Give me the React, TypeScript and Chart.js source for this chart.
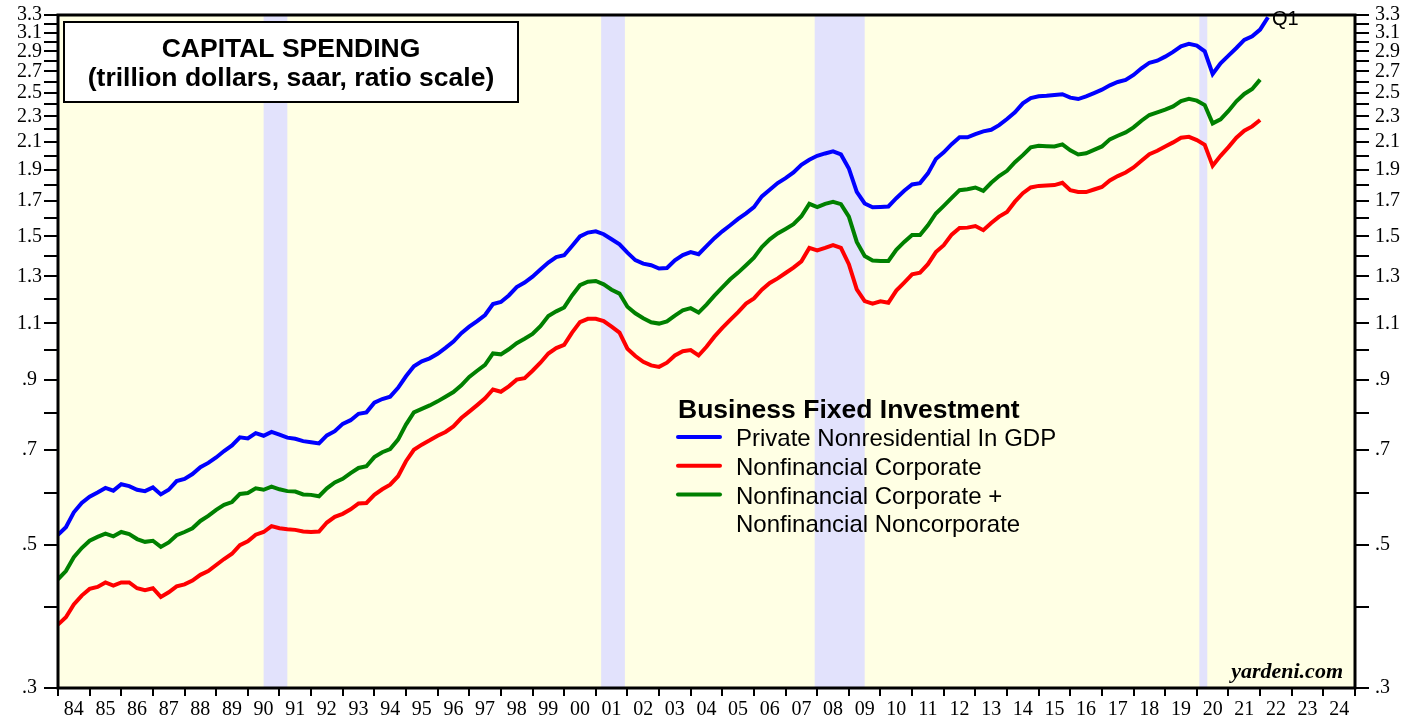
import React, { useEffect, useRef } from 'react';
import { Chart, registerables } from 'chart.js';

Chart.register(...registerables);

// ---- Data (quarterly, starting 1984, trillion dollars, saar) ----
const startYear = 1984;

const privateNonresidential = [
  0.518, 0.532, 0.561, 0.580, 0.593, 0.602, 0.612, 0.606, 0.620, 0.616,
  0.608, 0.605, 0.613, 0.598, 0.608, 0.627, 0.632, 0.643, 0.659, 0.669,
  0.682, 0.698, 0.712, 0.733, 0.730, 0.744, 0.737, 0.747, 0.740, 0.732,
  0.729, 0.723, 0.720, 0.717, 0.738, 0.749, 0.769, 0.779, 0.797, 0.801,
  0.829, 0.840, 0.847, 0.874, 0.911, 0.944, 0.961, 0.971, 0.987, 1.008,
  1.031, 1.062, 1.087, 1.109, 1.133, 1.178, 1.187, 1.215, 1.252, 1.272,
  1.299, 1.333, 1.366, 1.393, 1.402, 1.449, 1.499, 1.520, 1.527, 1.511,
  1.484, 1.458, 1.415, 1.378, 1.361, 1.353, 1.337, 1.340, 1.377, 1.403,
  1.418, 1.407, 1.448, 1.490, 1.527, 1.560, 1.596, 1.628, 1.664, 1.729,
  1.770, 1.813, 1.845, 1.883, 1.935, 1.970, 1.998, 2.015, 2.030, 2.008,
  1.910, 1.757, 1.686, 1.663, 1.665, 1.668, 1.718, 1.764, 1.804, 1.813,
  1.877, 1.976, 2.023, 2.083, 2.134, 2.134, 2.159, 2.180, 2.192, 2.229,
  2.278, 2.333, 2.409, 2.455, 2.470, 2.475, 2.482, 2.488, 2.458, 2.446,
  2.470, 2.499, 2.529, 2.569, 2.599, 2.618, 2.665, 2.729, 2.784, 2.804,
  2.845, 2.893, 2.952, 2.977, 2.960, 2.900, 2.675, 2.778, 2.855, 2.934,
  3.020, 3.060, 3.133, 3.274,
];

const nonfinancialCorporate = [
  0.376, 0.386, 0.404, 0.417, 0.427, 0.430, 0.437, 0.432, 0.437, 0.437,
  0.428, 0.425, 0.428, 0.415, 0.422, 0.431, 0.434, 0.440, 0.449, 0.455,
  0.465, 0.475, 0.484, 0.499, 0.506, 0.518, 0.523, 0.534, 0.530, 0.528,
  0.527, 0.524, 0.523, 0.524, 0.541, 0.552, 0.558, 0.567, 0.579, 0.580,
  0.597, 0.609, 0.619, 0.638, 0.673, 0.701, 0.714, 0.725, 0.737, 0.747,
  0.762, 0.785, 0.803, 0.822, 0.842, 0.869, 0.862, 0.879, 0.900, 0.905,
  0.929, 0.956, 0.988, 1.007, 1.019, 1.064, 1.105, 1.118, 1.118, 1.109,
  1.087, 1.064, 1.005, 0.979, 0.959, 0.947, 0.942, 0.956, 0.981, 0.996,
  1.000, 0.981, 1.012, 1.049, 1.082, 1.114, 1.145, 1.180, 1.202, 1.240,
  1.270, 1.291, 1.316, 1.342, 1.372, 1.439, 1.426, 1.439, 1.454, 1.439,
  1.358, 1.242, 1.191, 1.180, 1.190, 1.184, 1.236, 1.272, 1.310, 1.318,
  1.358, 1.418, 1.453, 1.509, 1.545, 1.547, 1.556, 1.533, 1.573, 1.609,
  1.636, 1.697, 1.749, 1.785, 1.795, 1.797, 1.800, 1.815, 1.768, 1.757,
  1.756, 1.772, 1.788, 1.830, 1.859, 1.883, 1.917, 1.963, 2.010, 2.034,
  2.066, 2.096, 2.131, 2.138, 2.113, 2.078, 1.928, 1.998, 2.061, 2.131,
  2.185, 2.219, 2.270,
];

const corporatePlusNoncorporate = [
  0.442, 0.455, 0.478, 0.494, 0.507, 0.514, 0.520, 0.515, 0.523, 0.519,
  0.510, 0.505, 0.507, 0.496, 0.504, 0.517, 0.523, 0.530, 0.544, 0.554,
  0.566, 0.576, 0.582, 0.599, 0.601, 0.611, 0.608, 0.615, 0.609, 0.605,
  0.604, 0.598, 0.597, 0.594, 0.611, 0.624, 0.632, 0.645, 0.657, 0.661,
  0.683, 0.695, 0.703, 0.727, 0.767, 0.801, 0.811, 0.821, 0.833, 0.847,
  0.861, 0.882, 0.909, 0.929, 0.949, 0.988, 0.985, 1.003, 1.025, 1.041,
  1.059, 1.089, 1.129, 1.148, 1.164, 1.215, 1.260, 1.276, 1.279, 1.264,
  1.240, 1.223, 1.167, 1.140, 1.120, 1.104, 1.099, 1.108, 1.131, 1.152,
  1.161, 1.143, 1.176, 1.214, 1.250, 1.287, 1.318, 1.353, 1.390, 1.444,
  1.484, 1.515, 1.540, 1.566, 1.611, 1.684, 1.664, 1.684, 1.696, 1.682,
  1.609, 1.470, 1.398, 1.376, 1.374, 1.374, 1.429, 1.470, 1.507, 1.507,
  1.560, 1.627, 1.672, 1.720, 1.768, 1.774, 1.785, 1.763, 1.815, 1.859,
  1.894, 1.953, 2.003, 2.060, 2.071, 2.068, 2.066, 2.081, 2.037, 2.008,
  2.016, 2.041, 2.066, 2.119, 2.146, 2.172, 2.211, 2.264, 2.311, 2.333,
  2.355, 2.383, 2.429, 2.449, 2.432, 2.394, 2.243, 2.276, 2.344, 2.426,
  2.491, 2.535, 2.621,
];

const seriesLabels = [
  'Private Nonresidential In GDP',
  'Nonfinancial Corporate',
  'Nonfinancial Corporate +\nNonfinancial Noncorporate',
];
const seriesColors = ['#0000ff', '#ff0000', '#008000'];

const xMin = 1984;
const xMax = 2025;
const yearTicks = [
  1984, 1985, 1986, 1987, 1988, 1989, 1990, 1991, 1992, 1993, 1994, 1995, 1996, 1997,
  1998, 1999, 2000, 2001, 2002, 2003, 2004, 2005, 2006, 2007, 2008, 2009, 2010, 2011,
  2012, 2013, 2014, 2015, 2016, 2017, 2018, 2019, 2020, 2021, 2022, 2023, 2024, 2025,
];

const yMin = 0.3;
const yMax = 3.3;
const yTickValues = [
  0.3, 0.4, 0.5, 0.6, 0.7, 0.8, 0.9, 1.0, 1.1, 1.2, 1.3, 1.4, 1.5, 1.6, 1.7, 1.8,
  1.9, 2.0, 2.1, 2.2, 2.3, 2.4, 2.5, 2.6, 2.7, 2.8, 2.9, 3.0, 3.1, 3.2, 3.3,
];
const yTickLabels = ['.3', '.5', '.7', '.9', '1.1', '1.3', '1.5', '1.7', '1.9', '2.1', '2.3', '2.5', '2.7', '2.9', '3.1', '3.3'];

// recessions (decimal years)
const recessionStarts = [1990.5, 2001.17, 2007.92, 2020.08];
const recessionEnds = [1991.25, 2001.92, 2009.5, 2020.33];

const titleLines = ['CAPITAL SPENDING', '(trillion dollars, saar, ratio scale)'];
const legendTitle = 'Business Fixed Investment';
const sourceText = 'yardeni.com';
const lastQuarterNote = 'Q1';

const serif = "'Liberation Serif', 'Times New Roman', serif";
const sans = "'Liberation Sans', Arial, sans-serif";

function toPoints(values: number[]) {
  return values.map((v, i) => ({ x: startYear + i / 4, y: v }));
}

function fmtY(v: number): string {
  const s = (Math.round(v * 10) / 10).toFixed(1);
  return s.startsWith('0') ? s.slice(1) : s;
}

const backgroundPlugin = {
  id: 'bgBands',
  beforeDraw(chart: any) {
    const { ctx, chartArea, scales } = chart;
    const { left, top, right, bottom } = chartArea;
    ctx.save();
    ctx.fillStyle = 'rgb(255,255,228)';
    ctx.fillRect(left, top, right - left, bottom - top);
    ctx.fillStyle = 'rgb(226,226,252)';
    recessionStarts.forEach((s, i) => {
      const x1 = scales.x.getPixelForValue(s);
      const x2 = scales.x.getPixelForValue(recessionEnds[i]);
      ctx.fillRect(x1, top, x2 - x1, bottom - top);
    });
    ctx.restore();
  },
};

const overlayPlugin = {
  id: 'overlay',
  afterDraw(chart: any) {
    const { ctx, chartArea } = chart;
    const { left, top, right, bottom } = chartArea;
    ctx.save();
    // frame
    ctx.strokeStyle = '#000';
    ctx.lineWidth = 3;
    ctx.strokeRect(left, top, right - left, bottom - top);

    // title box
    ctx.fillStyle = '#fff';
    ctx.fillRect(64, 22, 454, 80);
    ctx.lineWidth = 2;
    ctx.strokeRect(64, 22, 454, 80);
    ctx.fillStyle = '#000';
    ctx.textAlign = 'center';
    ctx.textBaseline = 'alphabetic';
    ctx.font = `bold 26.5px ${sans}`;
    ctx.fillText(titleLines[0], 291, 57);
    ctx.fillText(titleLines[1], 291, 86);

    // legend
    ctx.textAlign = 'left';
    ctx.font = `bold 26.5px ${sans}`;
    ctx.fillText(legendTitle, 678, 418);
    ctx.font = `24px ${sans}`;
    let y = 437;
    chart.data.datasets.forEach((ds: any) => {
      ctx.strokeStyle = ds.borderColor;
      ctx.lineWidth = 4;
      ctx.lineCap = 'round';
      ctx.beginPath();
      ctx.moveTo(678, y);
      ctx.lineTo(720, y);
      ctx.stroke();
      const lines = String(ds.label).split('\n');
      lines.forEach((ln: string, k: number) => {
        ctx.fillText(ln, 736, y + 9 + k * 28.5);
      });
      y += 28.8;
    });

    // source
    ctx.font = `italic bold 22px ${serif}`;
    ctx.textAlign = 'right';
    ctx.fillText(sourceText, 1343, 678);

    // last quarter note
    ctx.font = `20px ${sans}`;
    ctx.textAlign = 'left';
    ctx.fillText(lastQuarterNote, 1272, 25);
    ctx.restore();
  },
};

export default function App() {
  const canvasRef = useRef<HTMLCanvasElement>(null);

  useEffect(() => {
    const canvas = canvasRef.current;
    if (!canvas) return;

    const yAxisCommon = (position: 'left' | 'right') => ({
      type: 'logarithmic' as const,
      position,
      min: yMin,
      max: yMax,
      afterBuildTicks: (scale: any) => {
        scale.ticks = yTickValues.map((v) => ({ value: v }));
      },
      afterFit: (scale: any) => {
        scale.width = 58;
        scale.paddingTop = 0;
        scale.paddingBottom = 0;
      },
      ticks: {
        autoSkip: false,
        color: '#000',
        font: { family: serif, size: 20, lineHeight: 1 },
        padding: position === 'left' ? 2 : 6,
        crossAlign: position === 'left' ? 'center' : 'near',
        callback: (value: any) => {
          const s = fmtY(Number(value));
          return yTickLabels.includes(s) ? s : '';
        },
      },
      grid: {
        drawOnChartArea: false,
        drawTicks: true,
        tickLength: 14,
        color: '#000',
        lineWidth: 2,
      },
      border: { display: false },
    });

    const chart = new Chart(canvas, {
      type: 'line',
      data: {
        datasets: [
          {
            label: seriesLabels[0],
            data: toPoints(privateNonresidential),
            borderColor: seriesColors[0],
            backgroundColor: seriesColors[0],
            borderWidth: 4,
            pointRadius: 0,
            tension: 0,
            yAxisID: 'y',
          },
          {
            label: seriesLabels[1],
            data: toPoints(nonfinancialCorporate),
            borderColor: seriesColors[1],
            backgroundColor: seriesColors[1],
            borderWidth: 4,
            pointRadius: 0,
            tension: 0,
            yAxisID: 'y',
          },
          {
            label: seriesLabels[2],
            data: toPoints(corporatePlusNoncorporate),
            borderColor: seriesColors[2],
            backgroundColor: seriesColors[2],
            borderWidth: 4,
            pointRadius: 0,
            tension: 0,
            yAxisID: 'y',
          },
        ],
      },
      options: {
        responsive: false,
        animation: false,
        devicePixelRatio: 1,
        layout: { padding: { top: 15, left: 0, right: 0, bottom: 0 } },
        plugins: {
          legend: { display: false },
          tooltip: { enabled: false },
          title: { display: false },
        },
        scales: {
          x: {
            type: 'linear',
            min: xMin,
            max: xMax,
            afterBuildTicks: (scale: any) => {
              scale.ticks = yearTicks.map((v) => ({ value: v }));
            },
            afterFit: (scale: any) => {
              scale.height = 31;
              scale.paddingLeft = 0;
              scale.paddingRight = 0;
            },
            ticks: {
              autoSkip: false,
              maxRotation: 0,
              minRotation: 0,
              color: '#000',
              font: { family: serif, size: 20 },
              padding: 2,
              labelOffset: 15.8,
              callback: (value: any) => {
                const v = Number(value);
                return v < xMax ? String(v % 100).padStart(2, '0') : '';
              },
            },
            grid: {
              drawOnChartArea: false,
              drawTicks: true,
              tickLength: 8,
              color: '#000',
              lineWidth: 2,
            },
            border: { display: false },
          },
          y: yAxisCommon('left') as any,
          y2: yAxisCommon('right') as any,
        },
      },
      plugins: [backgroundPlugin, overlayPlugin],
    });

    return () => chart.destroy();
  }, []);

  return (
    <div style={{ position: 'absolute', left: 0, top: 0, width: 1413, height: 719, background: '#fff' }}>
      <canvas ref={canvasRef} width={1413} height={719} style={{ display: 'block', width: 1413, height: 719 }} />
    </div>
  );
}
